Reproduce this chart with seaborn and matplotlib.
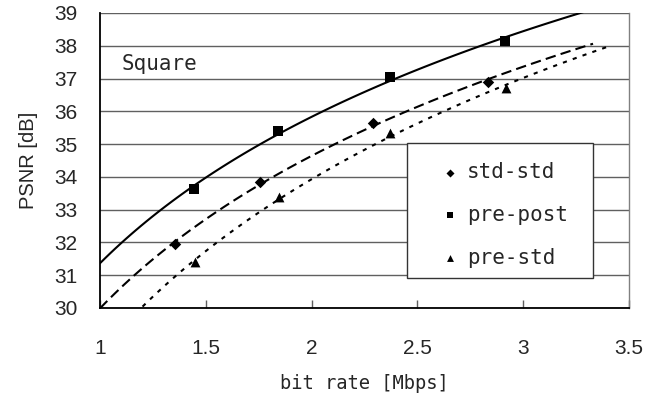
import numpy as np
import pandas as pd
import seaborn as sns
import matplotlib.pyplot as plt
from matplotlib.patches import Rectangle

# ---- data ----
series = ["std-std", "pre-post", "pre-std"]
x_std_std = [1.354, 1.756, 2.290, 2.834]
y_std_std = [31.95, 33.84, 35.64, 36.89]
x_pre_post = [1.444, 1.840, 2.370, 2.914]
y_pre_post = [33.63, 35.40, 37.04, 38.14]
x_pre_std = [1.449, 1.847, 2.370, 2.920]
y_pre_std = [31.40, 33.38, 35.34, 36.71]
trend_end = [3.33, 3.40, 3.40]
x_ticks = [1, 1.5, 2, 2.5, 3, 3.5]
x_tick_labels = ["1", "1.5", "2", "2.5", "3", "3.5"]
y_ticks = list(range(30, 40))

sns.set_style("white")
plt.rcParams['font.family'] = ['Liberation Sans', 'DejaVu Sans']

df = pd.concat([
    pd.DataFrame({"x": x_std_std, "y": y_std_std, "s": "std-std"}),
    pd.DataFrame({"x": x_pre_post, "y": y_pre_post, "s": "pre-post"}),
    pd.DataFrame({"x": x_pre_std, "y": y_pre_std, "s": "pre-std"}),
])

fig = plt.figure(figsize=(6.63, 4.0), dpi=100)
ax = fig.add_axes([100/663, 1 - 308/400, 529/663, 295/400])

markers = {"std-std": "D", "pre-post": "s", "pre-std": "^"}
msizes = {"std-std": 34, "pre-post": 42, "pre-std": 50}
styles = {"std-std": (0, (5, 2.5)), "pre-post": "-", "pre-std": (0, (2, 3))}

for name, end in zip(series, trend_end):
    sub = df[df.s == name]
    ax.set_xlim(1, end)
    sns.regplot(data=sub, x="x", y="y", ax=ax, logx=True, ci=None, truncate=False,
                scatter=False,
                line_kws=dict(color="black", lw=1.5, linestyle=styles[name]))

for name in series:
    sub = df[df.s == name]
    sns.scatterplot(data=sub, x="x", y="y", ax=ax, marker=markers[name],
                    s=msizes[name], color="black", edgecolor="black", linewidth=0,
                    label=name, zorder=5)

ax.set_xlim(1, 3.5)
ax.set_ylim(30, 39)
ax.set_xticks(x_ticks)
ax.set_xticklabels(x_tick_labels)
ax.set_yticks(y_ticks)

ax.grid(axis="y", color="#606060", lw=1.0)
ax.grid(axis="x", visible=False)
ax.set_axisbelow(True)

for s in ["left", "bottom"]:
    ax.spines[s].set_color("black")
    ax.spines[s].set_linewidth(1.3)
for s in ["top", "right"]:
    ax.spines[s].set_color("#808080")
    ax.spines[s].set_linewidth(1.0)
ax.spines["top"].set_visible(False)

ax.tick_params(axis="x", direction="in", length=6, width=1, color="#606060",
               pad=22, labelsize=15, bottom=True)
ax.tick_params(axis="y", direction="in", length=0, pad=16, labelsize=15, left=True)

ax.set_xlabel("bit rate [Mbps]", fontsize=13.5, family=["DejaVu Sans Mono"])
ax.set_ylabel("PSNR [dB]", fontsize=14.5)
ax.xaxis.set_label_coords(0.5, -0.225)
ax.yaxis.set_label_coords(-0.118, 0.5)

ax.text(1.10, 37.43, "Square", fontsize=15, family=["DejaVu Sans Mono"],
        va="center", ha="left")

# legend frame
ax.add_patch(Rectangle((0.58, 0.102), 0.352, 0.457, transform=ax.transAxes,
                       facecolor="white", edgecolor="#333333", lw=1.0, zorder=6))
leg = ax.legend(loc="upper left", bbox_to_anchor=(0.646, 0.495),
                frameon=False, prop={"family": "DejaVu Sans Mono", "size": 15},
                handletextpad=0.42, labelspacing=1.1, borderpad=0,
                borderaxespad=0, markerscale=0.7, handlelength=0.8)
leg.set_zorder(7)

fig.savefig("out.png", dpi=100)
